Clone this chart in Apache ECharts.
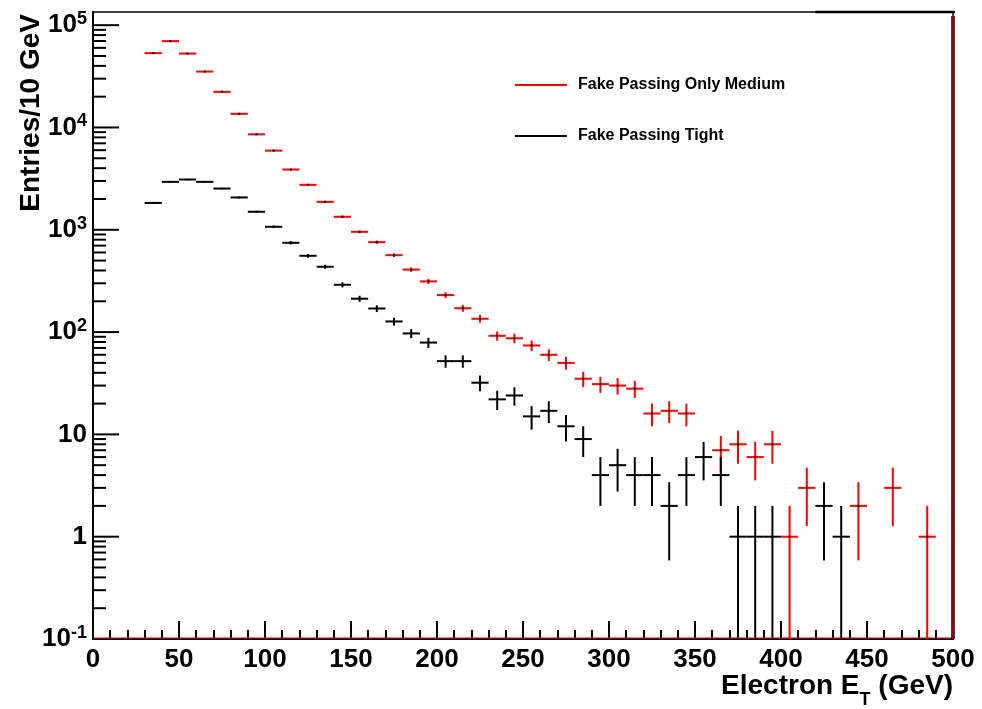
<!DOCTYPE html>
<html>
<head>
<meta charset="utf-8">
<script src="https://cdn.jsdelivr.net/npm/echarts@6/dist/echarts.min.js"></script>
<style>
html,body{margin:0;padding:0;background:#fff;}
#c{width:982px;height:709px;}
</style>
</head>
<body>
<div id="c"></div>
<script>
// ---------- data ----------
const binCenters = [35,45,55,65,75,85,95,105,115,125,135,145,155,165,175,185,195,205,215,225,
  235,245,255,265,275,285,295,305,315,325,335,345,355,365,375,385,395,405,415,425,435,445,455,465,475,485,495];
const binWidth = 10;
const mediumOnly = [53300,69800,52800,35200,22300,13600,8570,5940,3880,2750,1875,1340,955,757,565,408,313,230,171,135,
  92,87,74,60,50,35,31,30,28,16,17,16,0,7,8,6,8,1,3,0,0,2,0,3,0,1,0];
const tight = [1830,2940,3100,2940,2530,2070,1500,1070,746,557,435,290,212,170,127,97,79,52,52,32,
  22,24,15,17,12,9,4,5,4,4,2,4,6,4,1,1,1,0,0,2,1,0,0,0,0,0,0];
const seriesNames = ['Fake Passing Only Medium', 'Fake Passing Tight'];
const seriesColors = ['#ff0000', '#000000'];
const xMin = 0, xMax = 500, xInterval = 50;
const yMin = 0.1, yMax = 134500;
const yDecades = [0.1, 1, 10, 100, 1000, 10000, 100000];
const yMinorSteps = [2, 3, 4, 5, 6, 7, 8, 9];
const xTitle = 'Electron E';
const xTitleSub = 'T';
const xTitleUnit = ' (GeV)';
const yTitle = 'Entries/10 GeV';

const FONT = "'Liberation Sans', Arial, Helvetica, sans-serif";

function toPoints(values) {
  const out = [];
  values.forEach((v, i) => { if (v > 0) out.push([binCenters[i], v]); });
  return out;
}

function makeErrRender(color, dot) {
  return function (params, api) {
    const xc = api.value(0), v = api.value(1);
    const e = Math.sqrt(v);
    const lo = Math.max(v - e, yMin);
    const hi = Math.min(v + e, yMax);
    const pL = api.coord([xc - binWidth / 2, v]);
    const pR = api.coord([xc + binWidth / 2, v]);
    const pT = api.coord([xc, hi]);
    const pB = api.coord([xc, lo]);
    const children = [
      {type: 'line', shape: {x1: pL[0], y1: pL[1], x2: pR[0], y2: pR[1]}, style: {stroke: color, lineWidth: 2}},
      {type: 'line', shape: {x1: pT[0], y1: pT[1], x2: pB[0], y2: pB[1]}, style: {stroke: color, lineWidth: 2}}
    ];
    if (dot) {
      const c = api.coord([xc, v]);
      children.push({type: 'rect', shape: {x: c[0] - 1, y: c[1] - 1, width: 2, height: 2}, style: {fill: '#000'}});
    }
    return {type: 'group', children: children};
  };
}

function frameRender(params, api) {
  const children = [];
  // y ticks (inside), major at decades, minor at 2..9
  yDecades.forEach(d => {
    const p = api.coord([xMin, d]);
    children.push({type: 'line', shape: {x1: p[0], y1: p[1], x2: p[0] + 26, y2: p[1]}, style: {stroke: '#000', lineWidth: 2}});
    yMinorSteps.forEach(m => {
      const v = d * m;
      if (v < yMax) {
        const q = api.coord([xMin, v]);
        children.push({type: 'line', shape: {x1: q[0], y1: q[1], x2: q[0] + 13, y2: q[1]}, style: {stroke: '#000', lineWidth: 2}});
      }
    });
  });
  // red baseline along the bottom
  const b0 = api.coord([xMin, yMin]);
  const b1 = api.coord([xMax, yMin]);
  children.push({type: 'line', shape: {x1: b0[0], y1: b0[1] - 1, x2: b1[0], y2: b1[1] - 1}, style: {stroke: '#ff0000', lineWidth: 1.2}});
  // right edge line at x = 500
  const r0 = api.coord([xMax, yMin]);
  const r1 = api.coord([xMax, yMax]);
  children.push({type: 'line', shape: {x1: r0[0], y1: r0[1], x2: r1[0], y2: r1[1] + 4}, style: {stroke: '#000', lineWidth: 3.5}});
  children.push({type: 'line', shape: {x1: r0[0], y1: r0[1], x2: r1[0], y2: r1[1] + 4}, style: {stroke: '#cc0000', lineWidth: 1.5}});
  // thicker top segment at right
  const t0 = api.coord([420, yMax]);
  const t1 = api.coord([xMax, yMax]);
  children.push({type: 'line', shape: {x1: t0[0], y1: t0[1], x2: t1[0] + 2, y2: t1[1]}, style: {stroke: '#000', lineWidth: 2.5}});
  return {type: 'group', children: children};
}

const chart = echarts.init(document.getElementById('c'), null, {renderer: 'canvas'});

const option = {
  backgroundColor: '#fff',
  animation: false,
  grid: {left: 93, right: 29, top: 12, bottom: 70, show: true, borderColor: '#000', borderWidth: 1.5, backgroundColor: 'transparent'},
  xAxis: {
    type: 'value', min: xMin, max: xMax, interval: xInterval,
    axisLine: {show: true, lineStyle: {color: '#000', width: 2}},
    axisTick: {show: true, inside: true, length: 18, lineStyle: {color: '#000', width: 2}},
    minorTick: {show: true, splitNumber: 5, length: 9, lineStyle: {color: '#000', width: 2}},
    splitLine: {show: false},
    axisLabel: {color: '#000', fontFamily: FONT, fontWeight: 'bold', fontSize: 26, margin: 8}
  },
  yAxis: {
    type: 'log', logBase: 10, min: yMin, max: yMax,
    axisLine: {show: true, lineStyle: {color: '#000', width: 2}},
    axisTick: {show: false},
    splitLine: {show: false},
    axisLabel: {
      color: '#000', margin: 6,
      formatter: function (v) {
        const l = Math.log10(v);
        const r = Math.round(l);
        if (Math.abs(l - r) > 1e-6) return '';
        if (r === 0) return '{n|1}';
        if (r === 1) return '{n|10}';
        return '{n|10}{s|' + r + '}';
      },
      rich: {
        n: {fontFamily: FONT, fontWeight: 'bold', fontSize: 26, lineHeight: 30, color: '#000'},
        s: {fontFamily: FONT, fontWeight: 'bold', fontSize: 18, lineHeight: 16, verticalAlign: 'top', color: '#000'}
      }
    }
  },
  series: [
    {type: 'custom', name: seriesNames[0], renderItem: makeErrRender(seriesColors[0], true), data: toPoints(mediumOnly), clip: true, z: 2},
    {type: 'custom', name: seriesNames[1], renderItem: makeErrRender(seriesColors[1], false), data: toPoints(tight), clip: true, z: 3},
    {type: 'custom', name: 'frame', renderItem: frameRender, data: [[0, 1]], clip: false, z: 4, silent: true}
  ],
  graphic: [
    // legend
    {type: 'line', shape: {x1: 515, y1: 85, x2: 567, y2: 85}, style: {stroke: seriesColors[0], lineWidth: 2}},
    {type: 'text', x: 578, y: 85, style: {text: seriesNames[0], font: 'bold 16px ' + FONT, fill: '#000', verticalAlign: 'middle'}},
    {type: 'line', shape: {x1: 515, y1: 136, x2: 567, y2: 136}, style: {stroke: seriesColors[1], lineWidth: 2}},
    {type: 'text', x: 578, y: 136, style: {text: seriesNames[1], font: 'bold 16px ' + FONT, fill: '#000', verticalAlign: 'middle'}},
    // axis titles
    {
      type: 'text', x: 953, y: 686,
      style: {
        text: '{a|' + xTitle + '}{b|' + xTitleSub + '}{a|' + xTitleUnit + '}',
        align: 'right', verticalAlign: 'middle',
        rich: {
          a: {fontFamily: FONT, fontWeight: 'bold', fontSize: 28, lineHeight: 30, fill: '#000', color: '#000'},
          b: {fontFamily: FONT, fontWeight: 'bold', fontSize: 18, lineHeight: 14, verticalAlign: 'bottom', fill: '#000', color: '#000', padding: [0, 0, -8, 0]}
        }
      }
    },
    {
      type: 'text', x: 31, y: 14, rotation: Math.PI / 2,
      style: {text: yTitle, font: 'bold 28px ' + FONT, fill: '#000', align: 'right', verticalAlign: 'middle'}
    }
  ]
};
chart.setOption(option);
</script>
</body>
</html>
